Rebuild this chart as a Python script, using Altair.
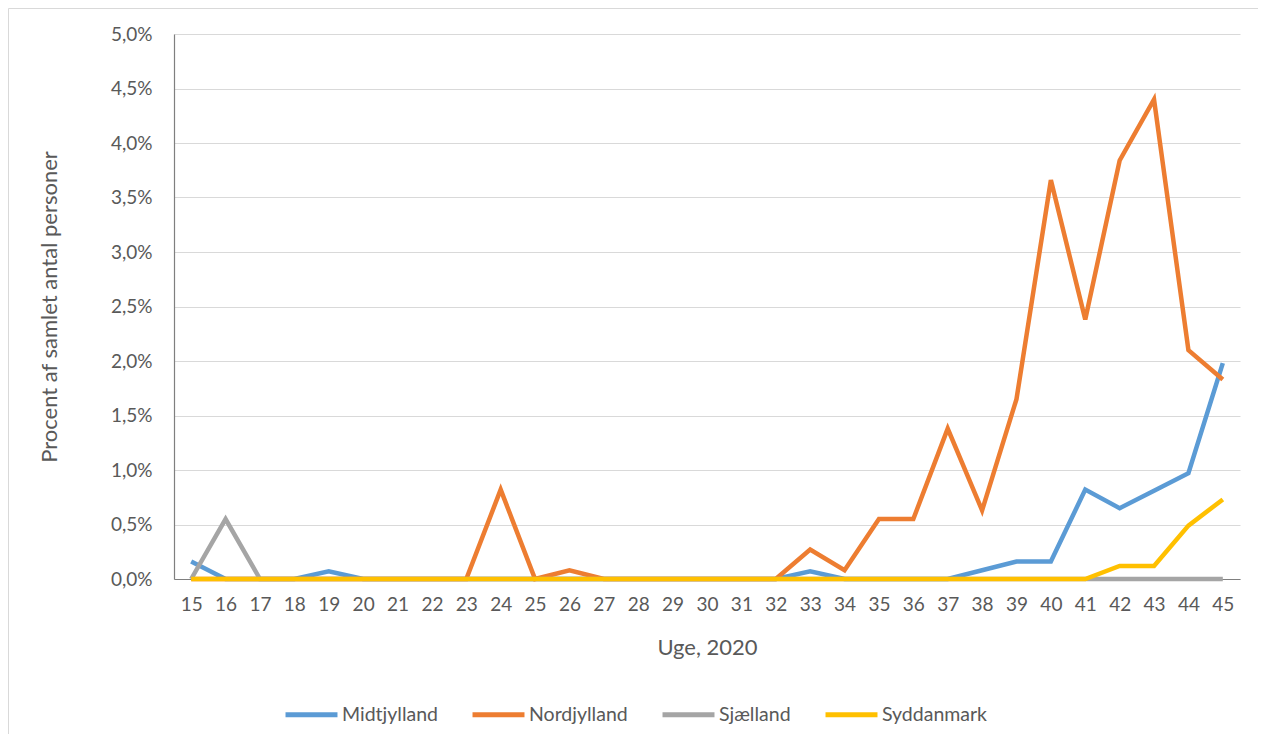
import altair as alt
import pandas as pd

weeks = list(range(15, 46))

midtjylland = [0.16, 0, 0, 0, 0.07, 0, 0, 0, 0, 0, 0, 0, 0, 0, 0, 0, 0, 0,
               0.07, 0, 0, 0, 0, 0.08, 0.16, 0.16, 0.82, 0.65, 0.81, 0.97, 1.98]
nordjylland = [0, 0, 0, 0, 0, 0, 0, 0, 0, 0.82, 0, 0.08, 0, 0, 0, 0, 0, 0,
               0.27, 0.08, 0.55, 0.55, 1.38, 0.63, 1.65, 3.66, 2.38, 3.84, 4.40, 2.10, 1.83]
sjaelland = [0, 0.55, 0, 0, 0, 0, 0, 0, 0, 0, 0, 0, 0, 0, 0, 0, 0, 0,
             0, 0, 0, 0, 0, 0, 0, 0, 0, 0, 0, 0, 0]
syddanmark = [0, 0, 0, 0, 0, 0, 0, 0, 0, 0, 0, 0, 0, 0, 0, 0, 0, 0,
              0, 0, 0, 0, 0, 0, 0, 0, 0, 0.12, 0.12, 0.49, 0.73]

series_names = ["Midtjylland", "Nordjylland", "Sjælland", "Syddanmark"]
series_values = [midtjylland, nordjylland, sjaelland, syddanmark]
series_colors = ["#5B9BD5", "#ED7D31", "#A5A5A5", "#FFC000"]

rows = []
for name, vals in zip(series_names, series_values):
    for w, v in zip(weeks, vals):
        rows.append({"Uge": str(w), "Region": name, "Andel": v / 100.0})
df = pd.DataFrame(rows)

FONT = "Lato"
TXT = "#595959"

lines = alt.Chart(df).mark_line(strokeWidth=4.5, strokeJoin="miter").encode(
    x=alt.X("Uge:N", sort=[str(w) for w in weeks],
            scale=alt.Scale(type="point", padding=0.5),
            axis=alt.Axis(title="Uge, 2020", labelAngle=0, ticks=False, grid=False,
                          domainColor="#7F7F7F", domainWidth=1.2,
                          labelFontSize=19, labelColor=TXT, labelPadding=16,
                          titleFontSize=22, titleColor=TXT, titleFontWeight="normal",
                          titlePadding=23)),
    y=alt.Y("Andel:Q", scale=alt.Scale(domain=[0, 0.05], nice=False),
            axis=alt.Axis(title="Procent af samlet antal personer", values=[i * 0.005 for i in range(11)],
                          labelExpr="replace(format(datum.value, '.1%'), '.', ',')",
                          ticks=False, domainColor="#7F7F7F", domainWidth=1.2,
                          gridColor="#D9D9D9", gridWidth=1,
                          labelFontSize=19, labelColor=TXT, labelPadding=22,
                          titleFontSize=22, titleColor=TXT, titleFontWeight="normal",
                          titlePadding=49)),
    color=alt.Color("Region:N", sort=series_names,
                    scale=alt.Scale(domain=series_names, range=series_colors),
                    legend=alt.Legend(title=None, orient="none", direction="horizontal",
                                      legendX=109, legendY=652,
                                      symbolType="stroke", symbolSize=2700, symbolStrokeWidth=5,
                                      labelFontSize=19.5, labelColor=TXT, labelOffset=2,
                                      columnPadding=24)),
    order=alt.Order("Uge:N"),
)

border = alt.Chart(alt.Data(values=[{}])).mark_rect(
    fill=None, stroke="#D9D9D9", strokeWidth=1
).encode(x=alt.value(-165.5), x2=alt.value(1300), y=alt.value(-25.5), y2=alt.value(900))

chart = alt.layer(border, lines).properties(
    width=1066, height=545,
    autosize=alt.AutoSizeParams(type="none"),
    padding={"left": 166, "top": 26, "right": 18, "bottom": 155},
).configure(font=FONT).configure_view(stroke=None)

chart.save("out.html", embed_options={"renderer": "svg", "actions": False})
